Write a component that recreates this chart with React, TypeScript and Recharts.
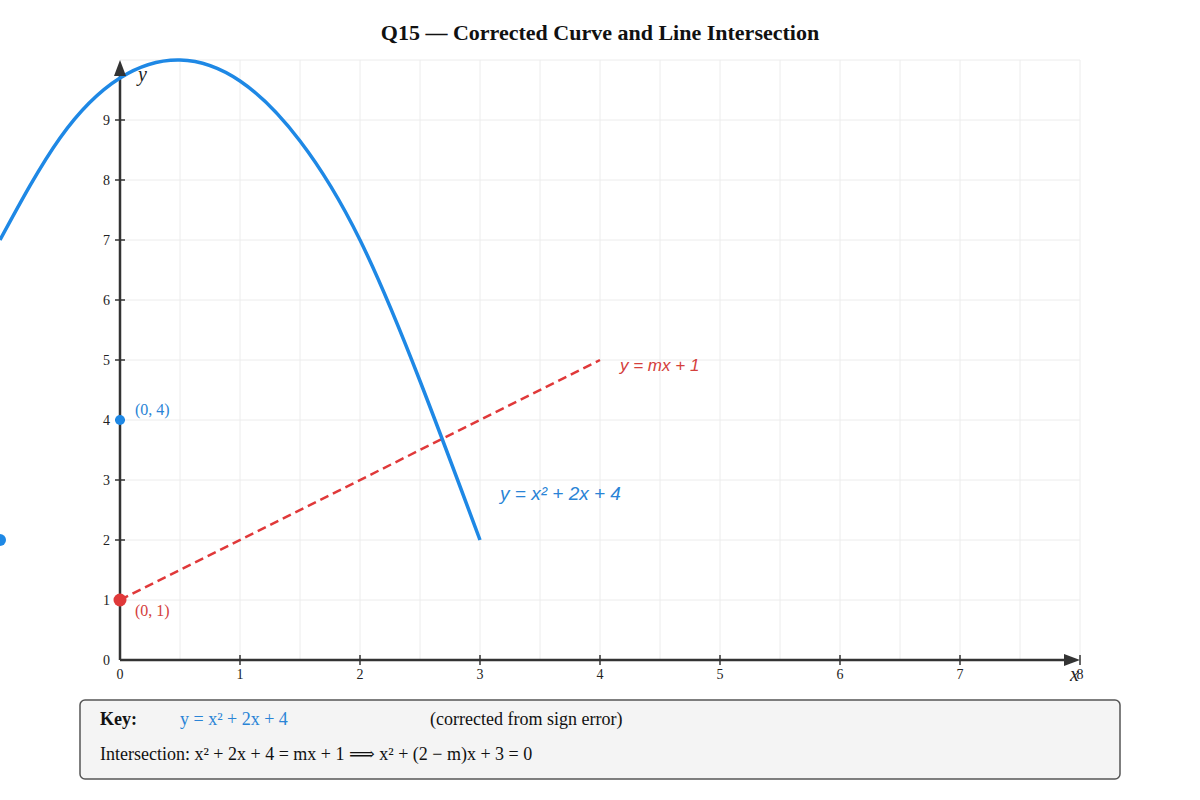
import React from 'react';
import { ComposedChart, Line, XAxis, YAxis, ReferenceLine, ReferenceDot } from 'recharts';

// parabola (x from -1 to 3)
const curveX = [-1, -0.5, 0, 0.5, 1, 1.5, 2, 2.5, 3];
const curveY = [7.0, 8.7, 9.7, 10.0, 9.65, 8.65, 7.0, 4.65, 2.0];

// dashed line y = mx + 1
const lineX = [0, 4];
const lineY = [1, 5];

const xTicks = [0, 1, 2, 3, 4, 5, 6, 7, 8];
const yTicks = [0, 1, 2, 3, 4, 5, 6, 7, 8, 9];

const curveData = curveX.map((x, i) => ({ x, y: curveY[i] }));
const lineData = lineX.map((x, i) => ({ x, y: lineY[i] }));

// grid every half unit across, every unit up
const gridX = Array.from({ length: 16 }, (_, i) => (i + 1) * 0.5);
const gridY = Array.from({ length: 10 }, (_, i) => i + 1);

const BLUE = '#1e88e5';
const BLUE_TEXT = '#2a84d6';
const RED = '#e0393a';
const RED_TEXT = '#d4403c';
const AXIS = '#333';
const SERIF = '"Liberation Serif", "DejaVu Serif", serif';
const SANS = '"Liberation Sans", Arial, sans-serif';

const XTick = (props: any) => {
  const { x, y, payload } = props;
  return (
    <g>
      {payload.value !== 0 && <line x1={x} x2={x} y1={y - 5} y2={y + 5} stroke={AXIS} strokeWidth={1.5} />}
      <text x={x} y={y + 19} textAnchor="middle" fontSize={14} fontFamily={SERIF} fill="#222">
        {payload.value}
      </text>
    </g>
  );
};

const YTickShape = (value: number) => (p: any) => (
  <g>
    {value !== 0 && <line x1={p.cx - 5} x2={p.cx + 5} y1={p.cy} y2={p.cy} stroke={AXIS} strokeWidth={1.5} />}
    <text x={p.cx - 10} y={p.cy + 5} textAnchor="end" fontSize={14} fontFamily={SERIF} fill="#222">
      {value}
    </text>
  </g>
);

export default function App() {
  return (
    <div style={{ position: 'relative', width: 1200, height: 800, background: '#fff' }}>
      <style>{'body{margin:0}'}</style>
      <div
        style={{
          position: 'absolute',
          top: 20,
          left: 0,
          width: 1200,
          textAlign: 'center',
          fontFamily: SERIF,
          fontWeight: 'bold',
          fontSize: 22,
          color: '#111',
        }}
      >
        Q15 — Corrected Curve and Line Intersection
      </div>
      <ComposedChart width={1200} height={800} margin={{ top: 60, right: 120, bottom: 110, left: 0 }}>
        <XAxis
          type="number"
          dataKey="x"
          domain={[-1, 8]}
          ticks={xTicks}
          axisLine={false}
          tickLine={false}
          tickSize={0}
          tickMargin={0}
          height={30}
          tick={<XTick />}
          interval={0}
        />
        <YAxis type="number" dataKey="y" domain={[0, 10]} hide />

        {gridX.map((v) => (
          <ReferenceLine key={`gx${v}`} segment={[{ x: v, y: 0 }, { x: v, y: 10 }]} stroke="#ececec" strokeWidth={1} />
        ))}
        {gridY.map((v) => (
          <ReferenceLine key={`gy${v}`} segment={[{ x: 0, y: v }, { x: 8, y: v }]} stroke="#ececec" strokeWidth={1} />
        ))}

        <ReferenceLine segment={[{ x: 0, y: 0 }, { x: 7.9, y: 0 }]} stroke={AXIS} strokeWidth={2.5} />
        <ReferenceLine segment={[{ x: 0, y: 0 }, { x: 0, y: 9.8 }]} stroke={AXIS} strokeWidth={2.5} />
        {yTicks.map((v) => (
          <ReferenceDot key={`yt${v}`} x={0} y={v} r={0} shape={YTickShape(v)} />
        ))}
        <ReferenceDot
          x={8}
          y={0}
          r={0}
          shape={(p: any) => (
            <g>
              <polygon points={`${p.cx},${p.cy} ${p.cx - 16},${p.cy - 6} ${p.cx - 16},${p.cy + 6}`} fill={AXIS} />
              <text x={p.cx - 10} y={p.cy + 21} fontSize={20} fontStyle="italic" fontFamily={SERIF} fill="#222">
                x
              </text>
            </g>
          )}
        />
        <ReferenceDot
          x={0}
          y={10}
          r={0}
          shape={(p: any) => (
            <g>
              <polygon points={`${p.cx},${p.cy} ${p.cx - 6},${p.cy + 16} ${p.cx + 6},${p.cy + 16}`} fill={AXIS} />
              <text x={p.cx + 18} y={p.cy + 21} fontSize={20} fontStyle="italic" fontFamily={SERIF} fill="#222">
                y
              </text>
            </g>
          )}
        />

        <Line
          data={lineData}
          dataKey="y"
          type="linear"
          stroke={RED}
          strokeWidth={2.5}
          strokeDasharray="9 5"
          dot={false}
          activeDot={false}
          isAnimationActive={false}
        />
        <Line
          data={curveData}
          dataKey="y"
          type="natural"
          stroke={BLUE}
          strokeWidth={3.5}
          dot={false}
          activeDot={false}
          isAnimationActive={false}
        />

        <ReferenceDot
          x={4}
          y={5}
          r={0}
          shape={(p: any) => (
            <text x={p.cx + 20} y={p.cy + 11} fontSize={17} fontStyle="italic" fontFamily={SANS} fill={RED_TEXT}>
              y = mx + 1
            </text>
          )}
        />
        <ReferenceDot
          x={3}
          y={2}
          r={0}
          shape={(p: any) => (
            <text x={p.cx + 20} y={p.cy - 40} fontSize={19} fontStyle="italic" fontFamily={SANS} fill={BLUE_TEXT}>
              y = x² + 2x + 4
            </text>
          )}
        />
        <ReferenceDot
          x={0}
          y={4}
          r={0}
          shape={(p: any) => (
            <g>
              <circle cx={p.cx} cy={p.cy} r={5} fill={BLUE} />
              <text x={p.cx + 15} y={p.cy - 5} fontSize={16} fontFamily={SERIF} fill={BLUE_TEXT}>
                (0, 4)
              </text>
            </g>
          )}
        />
        <ReferenceDot x={-1} y={2} r={6} fill={BLUE} stroke="none" />
        <ReferenceDot
          x={0}
          y={1}
          r={0}
          shape={(p: any) => (
            <g>
              <circle cx={p.cx} cy={p.cy} r={6.5} fill={RED} />
              <text x={p.cx + 15} y={p.cy + 16} fontSize={16} fontFamily={SERIF} fill={RED_TEXT}>
                (0, 1)
              </text>
            </g>
          )}
        />
      </ComposedChart>
      <svg width={1200} height={800} style={{ position: 'absolute', top: 0, left: 0, pointerEvents: 'none' }}>
        <rect x={80} y={700} width={1040} height={79} rx={5} fill="#f4f4f4" stroke="#555" strokeWidth={1.5} />
        <text x={100} y={725} fontSize={18} fontWeight="bold" fontFamily={SERIF} fill="#111">
          Key:
        </text>
        <text x={180} y={725} fontSize={18} fontFamily={SERIF} fill={BLUE_TEXT}>
          y = x² + 2x + 4
        </text>
        <text x={430} y={725} fontSize={18} fontFamily={SERIF} fill="#111">
          (corrected from sign error)
        </text>
        <text x={100} y={760} fontSize={18} fontFamily={SERIF} fill="#111">
          Intersection: x² + 2x + 4 = mx + 1 ⟹ x² + (2 − m)x + 3 = 0
        </text>
      </svg>
    </div>
  );
}
